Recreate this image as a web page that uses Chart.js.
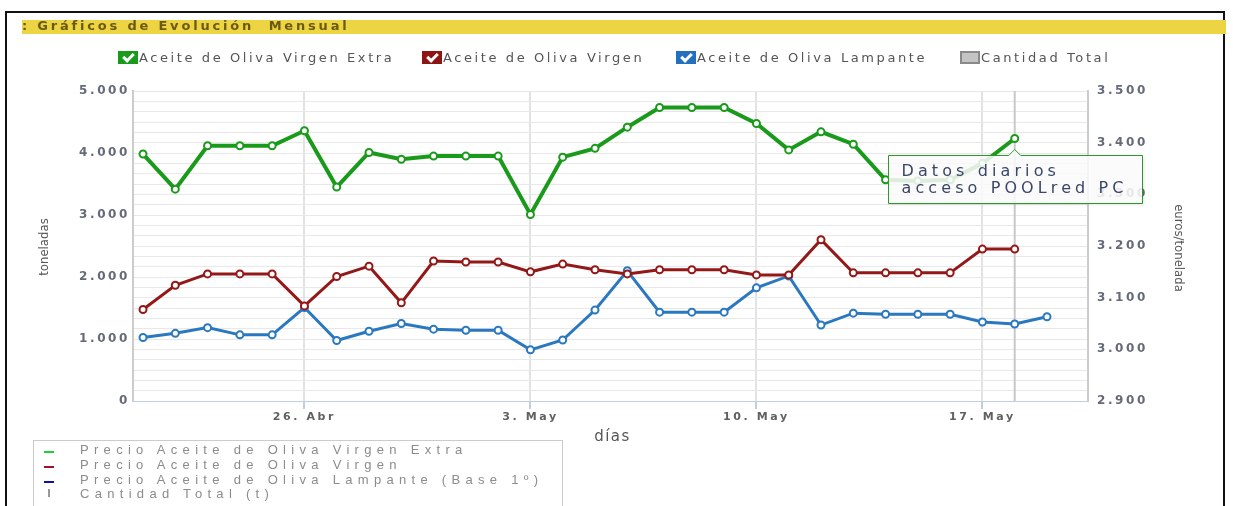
<!DOCTYPE html>
<html>
<head>
<meta charset="utf-8">
<script src="https://cdn.jsdelivr.net/npm/chart.js@4.4.1/dist/chart.umd.min.js"></script>
<style>
  html, body { margin: 0; padding: 0; background: #fff; }
  body { width: 1233px; height: 506px; position: relative; overflow: hidden; }
  #frame { position: absolute; left: 5px; top: 11px; width: 1220px; height: 520px; border: 2px solid #111; box-sizing: border-box; }
  #titlebar { position: absolute; left: 22px; top: 20px; width: 1204px; height: 14px; background: #edd443; }
  #titlebar span { position: absolute; left: 0; top: -2px; font: bold 13px "DejaVu Sans", Verdana, sans-serif; letter-spacing: 2.8px; color: #6a5a14; white-space: nowrap; }
  #chartBox { position: absolute; left: 0; top: 0; width: 1233px; height: 506px; }
  .top-leg { position: absolute; top: 50px; font: 13px "DejaVu Sans", Verdana, sans-serif; letter-spacing: 2.6px; color: #555; white-space: nowrap; }
  .top-leg i { display: inline-block; width: 20px; height: 13px; vertical-align: -2px; position: relative; box-sizing: border-box; margin-right: 1px; }
  .top-leg i.chk::after { content: ""; position: absolute; left: 7px; top: 0px; width: 4px; height: 8px; border: solid #fff; border-width: 0 3px 3px 0; transform: rotate(45deg); }
  #botLeg { position: absolute; left: 33px; top: 440px; width: 530px; height: 70px; border: 1px solid #ccc; background: #fff; box-sizing: border-box; }
  #botLeg div { position: absolute; left: 46px; font: 13px "Liberation Sans", Arial, sans-serif; letter-spacing: 5.3px; color: #8c8c8c; white-space: nowrap; }
  #botLeg b { position: absolute; left: 10px; width: 10px; height: 2px; }
</style>
</head>
<body>
<div id="chartBox"><canvas id="grafico" width="1233" height="506"></canvas></div>
<div id="frame"></div>
<div id="titlebar"><span>: Gráficos de Evolución&nbsp; Mensual</span></div>

<div class="top-leg" style="left:118px"><i class="chk" style="background:#1a9a1a"></i>Aceite de Oliva Virgen Extra</div>
<div class="top-leg" style="left:422px"><i class="chk" style="background:#8e1414"></i>Aceite de Oliva Virgen</div>
<div class="top-leg" style="left:676px"><i class="chk" style="background:#2470c0"></i>Aceite de Oliva Lampante</div>
<div class="top-leg" style="left:960px"><i style="background:#c4c4c4;border:2px solid #8a8a8a"></i>Cantidad Total</div>

<div id="botLeg">
  <b style="top:10px;background:#22cc33"></b><div style="top:1px">Precio Aceite de Oliva Virgen Extra</div>
  <b style="top:25px;background:#a01030"></b><div style="top:16px">Precio Aceite de Oliva Virgen</div>
  <b style="top:40px;background:#1010a0"></b><div style="top:31px">Precio Aceite de Oliva Lampante (Base 1º)</div>
  <b style="top:48px;left:14px;width:2px;height:8px;background:#999"></b><div style="top:45px">Cantidad Total (t)</div>
</div>

<script>
// dias desde el 21 de abril
const dias = ["21. Abr", "22. Abr", "23. Abr", "24. Abr", "25. Abr", "26. Abr", "27. Abr",
  "28. Abr", "29. Abr", "30. Abr", "1. May", "2. May", "3. May", "4. May", "5. May",
  "6. May", "7. May", "8. May", "9. May", "10. May", "11. May", "12. May", "13. May",
  "14. May", "15. May", "16. May", "17. May", "18. May", "19. May"];

const marcasX = [5, 12, 19, 26];

// euros/tonelada
const virgenExtra = [3378, 3310, 3394, 3394, 3394, 3423, 3314, 3381, 3368, 3374, 3374, 3374,
  3261, 3372, 3389, 3430, 3468, 3468, 3468, 3437, 3386, 3421, 3397, 3328, 3326, 3328, 3360, 3408];
const virgen = [3077, 3124, 3146, 3146, 3146, 3084, 3141, 3161, 3090, 3171, 3169, 3169,
  3150, 3165, 3154, 3146, 3154, 3154, 3154, 3144, 3144, 3212, 3148, 3148, 3148, 3148, 3194, 3194];
const lampante = [3023, 3031, 3042, 3028, 3028, 3081, 3017, 3035, 3050, 3039, 3037, 3037,
  2999, 3018, 3076, 3152, 3072, 3072, 3072, 3119, 3142, 3047, 3070, 3068, 3068, 3068, 3053, 3049, 3063];

const ticksIzq = [0, 1000, 2000, 3000, 4000, 5000];

function puntos(arr) {
  return arr.map((v, i) => ({ x: i, y: v }));
}

function miles(v) {
  return String(v).replace(/\B(?=(\d{3})+(?!\d))/g, ".");
}

function serie(label, color, width, data) {
  return {
    label: label,
    data: puntos(data),
    yAxisID: "y1",
    borderColor: color,
    borderWidth: width,
    pointRadius: 3.5,
    pointBorderWidth: 2,
    pointBackgroundColor: "#fff",
    pointBorderColor: color,
    tension: 0,
  };
}

// texto ancho de los ejes (como en la captura)
const espaciado = {
  id: "espaciado",
  beforeDraw(chart) {
    chart.ctx.letterSpacing = "2.6px";
  },
};

// cruz vertical, titulos de ejes y cuadro "Datos diarios"
const tooltipFijo = {
  id: "tooltipFijo",
  beforeDatasetsDraw(chart) {
    const p = chart.getDatasetMeta(0).data[27];
    const ctx = chart.ctx;
    ctx.save();
    ctx.strokeStyle = "#c8c8c8";
    ctx.lineWidth = 2;
    ctx.beginPath();
    ctx.moveTo(p.x, chart.chartArea.top);
    ctx.lineTo(p.x, chart.chartArea.bottom);
    ctx.stroke();
    ctx.restore();
  },
  afterDraw(chart) {
    const ctx = chart.ctx;
    const a = chart.chartArea;
    const midY = (a.top + a.bottom) / 2;
    ctx.save();
    ctx.letterSpacing = "0px";
    ctx.fillStyle = "#555";
    ctx.textAlign = "center";
    ctx.textBaseline = "middle";
    ctx.font = "13px 'DejaVu Sans Condensed'";
    ctx.save();
    ctx.translate(45, midY + 1);
    ctx.rotate(-Math.PI / 2);
    ctx.fillText("toneladas", 0, 0);
    ctx.restore();
    ctx.save();
    ctx.translate(1178, midY + 2);
    ctx.rotate(Math.PI / 2);
    ctx.fillText("euros/tonelada", 0, 0);
    ctx.restore();
    ctx.letterSpacing = "1.5px";
    ctx.font = "15px 'DejaVu Sans'";
    ctx.fillText("días", (a.left + a.right) / 2 + 2, 437);
    ctx.restore();

    const p = chart.getDatasetMeta(0).data[27];
    const w = 254, h = 48;
    const x0 = Math.round(p.x - 127) + 0.5, y0 = Math.round(p.y + 16) + 0.5;
    ctx.save();
    ctx.shadowColor = "rgba(0,0,0,0.15)";
    ctx.shadowOffsetX = 1;
    ctx.shadowOffsetY = 1;
    ctx.shadowBlur = 3;
    ctx.beginPath();
    ctx.moveTo(x0, y0);
    ctx.lineTo(p.x - 6, y0);
    ctx.lineTo(p.x, y0 - 6);
    ctx.lineTo(p.x + 6, y0);
    ctx.lineTo(x0 + w, y0);
    ctx.lineTo(x0 + w, y0 + h);
    ctx.lineTo(x0, y0 + h);
    ctx.closePath();
    ctx.fillStyle = "rgba(255,255,255,0.85)";
    ctx.fill();
    ctx.shadowColor = "transparent";
    ctx.strokeStyle = "#2a9a2a";
    ctx.lineWidth = 1;
    ctx.stroke();
    ctx.fillStyle = "#3a4668";
    ctx.letterSpacing = "4.1px";
    ctx.font = "16px 'DejaVu Sans'";
    ctx.textBaseline = "alphabetic";
    ctx.textAlign = "left";
    ctx.fillText("Datos diarios", x0 + 13, y0 + 20);
    ctx.fillText("acceso POOLred PC", x0 + 13, y0 + 37);
    ctx.restore();
  },
};

const configLineas = {
  type: "line",
  data: {
    datasets: [
      serie("Precio Aceite de Oliva Virgen Extra", "#1a9a1a", 4, virgenExtra),
      serie("Precio Aceite de Oliva Virgen", "#941818", 3, virgen),
      serie("Precio Aceite de Oliva Lampante (Base 1º)", "#2a78c0", 3, lampante),
    ],
  },
  plugins: [espaciado, tooltipFijo],
  options: {
    responsive: false,
    animation: false,
    layout: { padding: { left: 35, right: 48, top: 91, bottom: 65 } },
    scales: {
      x: {
        type: "linear",
        min: -0.31,
        max: 29.27,
        afterBuildTicks: (scale) => {
          scale.ticks = marcasX.map((v) => ({ value: v }));
        },
        afterFit: (scale) => {
          scale.height = 40;
        },
        ticks: {
          color: "#606060",
          font: { family: "DejaVu Sans", size: 11, weight: "bold" },
          padding: 2,
          callback: (v) => dias[v],
        },
        grid: { color: "#e2e2e2", lineWidth: 2, tickLength: 8, tickColor: "#c0d0e0" },
        border: { color: "#c0d0e0", width: 1 },
      },
      y: {
        position: "left",
        min: 0,
        max: 5000,
        afterBuildTicks: (scale) => {
          scale.ticks = ticksIzq.map((v) => ({ value: v }));
        },
        afterFit: (scale) => {
          scale.width = 98;
        },
        ticks: {
          color: "#666a78",
          font: { family: "DejaVu Sans", size: 12, weight: "bold" },
          padding: 3,
          callback: (v) => miles(v),
        },
        grid: { display: false, drawTicks: false },
        border: { color: "#cccccc", width: 2 },
      },
      y1: {
        position: "right",
        min: 2900,
        max: 3500,
        afterFit: (scale) => {
          scale.width = 97;
        },
        ticks: {
          stepSize: 20,
          autoSkip: false,
          color: "#666a78",
          font: { family: "DejaVu Sans", size: 12, weight: "bold" },
          padding: 9,
          callback: (v) => (v % 100 === 0 ? miles(v) : ""),
        },
        grid: { color: "#e8e8e8", lineWidth: 1, drawTicks: false },
        border: { color: "#cccccc", width: 2 },
      },
    },
    plugins: {
      legend: { display: false },
      tooltip: { enabled: false },
    },
  },
};

var graficoPrecios = new Chart(document.getElementById("grafico"), configLineas);
</script>
</body>
</html>
